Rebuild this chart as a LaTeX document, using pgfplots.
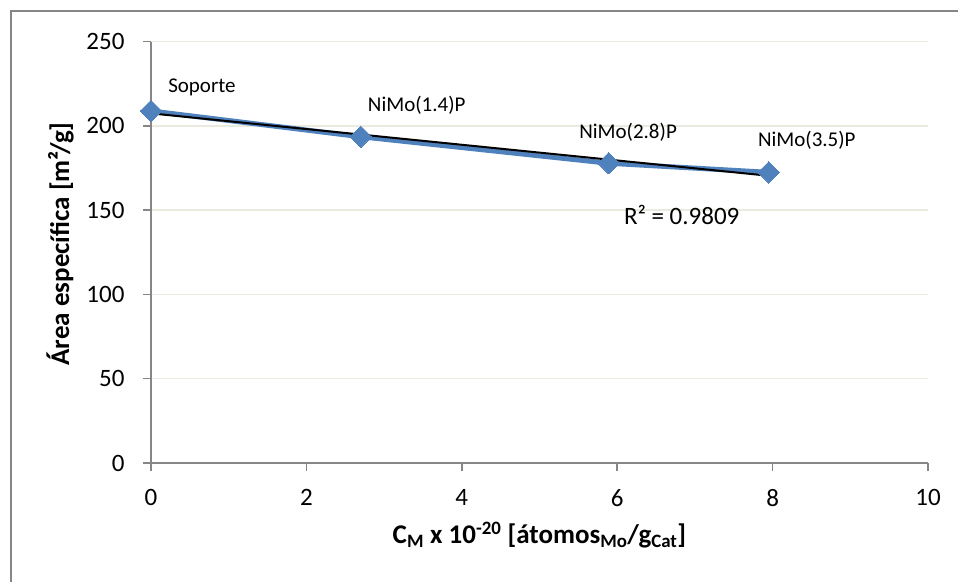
\documentclass[border=0pt]{standalone}
\usepackage{fontspec}
\setmainfont{Carlito}
\usepackage{pgfplots}
\usepackage{pgfplotstable}
\pgfplotsset{compat=1.18}

\definecolor{serie}{HTML}{4F81BD}
\definecolor{eje}{HTML}{868686}
\definecolor{rejilla}{HTML}{EBEADF}

% Área específica frente a la concentración de Mo
\pgfplotstableread{
x     y
0     208.8
2.70  193.5
5.89  177.8
7.95  172.4
}\datos

\begin{document}
\begin{tikzpicture}[x=1pt,y=1pt]
\useasboundingbox (0,0) rectangle (958,582);
% marco del gráfico
\draw[eje, line width=1.5pt] (11,0) -- (11,571) -- (958,571);
\begin{axis}[
  at={(151pt,119pt)}, anchor=south west,
  scale only axis, width=777pt, height=421.5pt,
  xmin=0, xmax=10, ymin=0, ymax=250,
  xtick={0,2,...,10}, ytick={0,50,...,250},
  axis x line*=bottom, axis y line*=left,
  axis line style={eje, line width=1.5pt, -},
  tick align=outside, major tick length=8pt,
  tick style={eje, line width=1.5pt},
  ymajorgrids, major grid style={rejilla, line width=1.5pt},
  font=\fontsize{25}{30}\selectfont,
  /pgf/number format/assume math mode=true,
  xticklabel style={yshift=-15pt},
  yticklabel style={xshift=-15pt},
  clip=false,
  xlabel={\fontsize{27}{32}\selectfont\bfseries C\textsubscript{M} x 10\textsuperscript{-20} [átomos\textsubscript{Mo}/g\textsubscript{Cat}]},
  ylabel={\fontsize{27}{32}\selectfont\bfseries Área específica [m²/g]},
  xlabel style={at={(axis description cs:0.5,-0.171)}, anchor=center},
  ylabel style={at={(axis description cs:-0.117,0.52)}, anchor=center},
]
\addplot[serie, line width=5pt, mark=square*, mark size=7.6pt,
  mark options={rotate=45, line width=0pt, fill=serie, draw=serie}]
  table[x=x, y=y] {\datos};
\addplot[black, line width=2pt, no marks]
  table[x=x, y={create col/linear regression={y=y}}] {\datos};

\begin{scope}[every node/.style={font=\fontsize{21}{25}\selectfont, inner sep=0pt}]
\node at (axis cs:0.656,223.0) {Soporte};
\node at (axis cs:3.42,212.3) {NiMo(1.4)P};
\node at (axis cs:6.14,196.3) {NiMo(2.8)P};
\node at (axis cs:8.44,191.6) {NiMo(3.5)P};
\end{scope}
\node[inner sep=0pt] at (axis cs:6.83,147.1) {R² = 0.9809};
\end{axis}
\end{tikzpicture}
\end{document}
